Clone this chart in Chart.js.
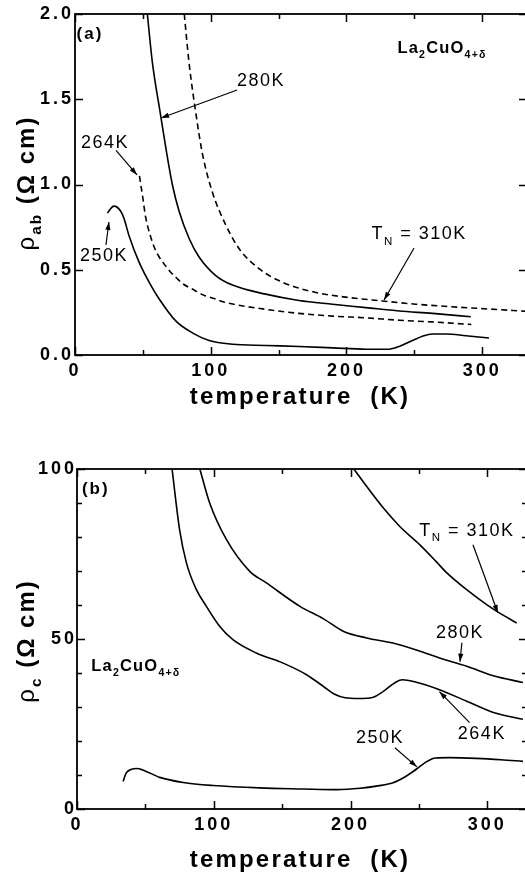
<!DOCTYPE html>
<html><head><meta charset="utf-8">
<script src="https://cdn.jsdelivr.net/npm/chart.js@4.4.0/dist/chart.umd.min.js"></script>
<style>
html,body{margin:0;padding:0;background:#fff;width:525px;height:877px;overflow:hidden;position:relative}
canvas{position:absolute;left:0}
#ca{top:0}
#cb{top:438px}
</style></head><body>
<canvas id="ca" width="535" height="438"></canvas>
<canvas id="cb" width="535" height="439"></canvas>
<script>
// ---------- tick values ----------
const X_TICKS = [0, 100, 200, 300];
const X_MINOR = [50, 150, 250];
const A_Y_TICKS = [0, 0.5, 1.0, 1.5, 2.0];
const A_Y_MINOR = [];
const B_Y_TICKS = [0, 50, 100];
const B_Y_MINOR = [10, 20, 30, 40, 60, 70, 80, 90];

// ---------- panel (a): rho_ab (Ohm cm) vs T (K) ----------
const aT250 = [23.8, 28.7, 33.7, 36.1, 39.8, 47.2, 55.8, 61.9, 74.2, 86.5, 98.8, 116, 140.5, 165, 189.7, 214.3, 231.4, 238.8, 248.6, 256, 263.4, 273.2, 288, 305];
const aR250 = [0.833, 0.873, 0.843, 0.80, 0.70, 0.545, 0.41, 0.33, 0.20, 0.13, 0.085, 0.063, 0.056, 0.05, 0.042, 0.034, 0.034, 0.05, 0.085, 0.11, 0.123, 0.123, 0.113, 0.10];
const aT264 = [47.5, 50, 52, 55.5, 59, 62, 66, 70, 75, 80, 88, 95, 103, 110, 120, 140.5, 165, 190, 214, 239, 263, 292];
const aR264 = [1.05, 0.92, 0.81, 0.70, 0.62, 0.575, 0.53, 0.49, 0.45, 0.415, 0.38, 0.35, 0.33, 0.31, 0.293, 0.268, 0.244, 0.228, 0.218, 0.204, 0.194, 0.179];
const aT280 = [53.3, 57, 63, 66.8, 71.7, 76.7, 84, 91.4, 103.7, 116, 140.5, 165, 189.7, 214.3, 238.8, 263.4, 291.6];
const aR280 = [2.0, 1.716, 1.41, 1.22, 1.0, 0.843, 0.685, 0.575, 0.466, 0.41, 0.357, 0.32, 0.298, 0.278, 0.258, 0.244, 0.224];
const aT310 = [80.5, 84, 89, 93.9, 101, 111, 120.8, 135.6, 152.8, 177.4, 202, 226.5, 251, 275.7, 300, 333];
const aR310 = [2.0, 1.716, 1.42, 1.18, 0.96, 0.764, 0.625, 0.506, 0.427, 0.367, 0.337, 0.317, 0.298, 0.284, 0.272, 0.256];

// ---------- panel (b): rho_c (Ohm cm) vs T (K) ----------
const bT250 = [33.7, 36, 40, 43.5, 48, 60.5, 77.6, 99.5, 133.6, 165, 190, 207, 220, 231, 240, 246, 251, 256, 262, 272, 292, 310, 326];
const bR250 = [8.1, 10.6, 11.7, 11.9, 11.5, 9.3, 7.8, 6.9, 6.2, 5.9, 5.7, 6.1, 6.8, 7.7, 9.5, 11.1, 12.6, 14.0, 15.0, 15.1, 14.9, 14.5, 14.0];
const bT264 = [69.5, 75, 80, 87.3, 94.6, 104.4, 114, 131, 150.7, 167.8, 180, 188, 196, 206, 216, 224, 233, 238, 246, 265, 284.9, 304.4, 326];
const bR264 = [100, 82.2, 72.4, 64.5, 59.6, 53.7, 49.8, 45.9, 42.9, 39.5, 36.1, 33.8, 32.7, 32.5, 32.8, 34.6, 37.3, 38.0, 37.5, 35.1, 31.7, 28.4, 26.4];
const bT280 = [89.8, 97, 109.3, 126.3, 138.5, 163, 180, 194.6, 211.7, 231, 250.7, 265, 284.9, 304.4, 326];
const bR280 = [100, 90, 79.2, 69.9, 66.5, 59.6, 56, 52.3, 50.3, 48.8, 46.4, 44.4, 42, 39.2, 37.2];
const bT310 = [202.4, 211.7, 224, 236, 250.7, 263, 270, 284.9, 299.5, 309, 321.5];
const bR310 = [100, 94.9, 88.5, 83.1, 77.7, 72.6, 69.6, 64.5, 60.1, 57.6, 54.7];

// ---------- annotation labels (data coords) ----------
const A_NOTES = [
  {parts:[{t:'(a)'}], x:11, y:1.89, size:17, weight:'bold', sp:2},
  {parts:[{t:'La'},{t:'2',sub:1},{t:'CuO'},{t:'4+δ',sub:1}], x:270.4, y:1.806, size:16.5, weight:'bold', sp:1.2},
  {parts:[{t:'280K'}], x:137, y:1.613, size:18, weight:'normal', sp:1.5, arrow:[119.4,1.554,63.4,1.39]},
  {parts:[{t:'264K'}], x:22.1, y:1.25, size:18, weight:'normal', sp:1.5, arrow:[30.2,1.20,45.7,1.056]},
  {parts:[{t:'250K'}], x:21.4, y:0.587, size:18, weight:'normal', sp:1.5, arrow:[22.8,0.645,25,0.78]},
  {parts:[{t:'T'},{t:'N',sub:1},{t:' = 310K'}], x:253.5, y:0.716, size:18, weight:'normal', sp:1.5, arrow:[249.8,0.628,227.7,0.323]}
];
const B_NOTES = [
  {parts:[{t:'(b)'}], x:13.7, y:94.5, size:17, weight:'bold', sp:2},
  {parts:[{t:'T'},{t:'N',sub:1},{t:' = 310K'}], x:285, y:82.2, size:18, weight:'normal', sp:1.5, arrow:[289.5,77.7,307.7,57.7]},
  {parts:[{t:'280K'}], x:280, y:52.1, size:18, weight:'normal', sp:1.5, arrow:[281.4,48.9,280,43.3]},
  {parts:[{t:'La'},{t:'2',sub:1},{t:'CuO'},{t:'4+δ',sub:1}], x:43, y:42.4, size:16.5, weight:'bold', sp:1.2},
  {parts:[{t:'264K'}], x:296, y:22.4, size:18, weight:'normal', sp:1.5, arrow:[287,25.4,265,34.5]},
  {parts:[{t:'250K'}], x:221.5, y:21.3, size:18, weight:'normal', sp:1.5, arrow:[232.4,18.0,248.5,12.4]}
];

const FAM = '"Liberation Sans", Arial, Helvetica, sans-serif';

function pts(xs, ys){ return xs.map((x,i)=>({x:x, y:ys[i]})); }

function measureParts(ctx, parts, size, weight, sp){
  let w = 0;
  for (const p of parts){
    const s = p.sub ? size*0.64 : size;
    ctx.font = `${p.w||weight} ${s}px ${p.f||FAM}`;
    ctx.letterSpacing = sp + 'px';
    w += ctx.measureText(p.t).width;
  }
  return w;
}
function drawParts(ctx, parts, cx, cy, size, weight, sp){
  const w = measureParts(ctx, parts, size, weight, sp);
  let x = cx - w/2;
  ctx.textAlign = 'left'; ctx.textBaseline = 'alphabetic'; ctx.fillStyle = '#000';
  for (const p of parts){
    const s = p.sub ? size*0.64 : size;
    ctx.font = `${p.w||weight} ${s}px ${p.f||FAM}`;
    ctx.letterSpacing = sp + 'px';
    ctx.fillText(p.t, x, cy + size*0.36 + (p.sub ? size*0.3 : 0));
    x += ctx.measureText(p.t).width;
  }
}
function arrow(ctx, x1, y1, x2, y2){
  ctx.beginPath(); ctx.moveTo(x1,y1); ctx.lineTo(x2,y2);
  ctx.lineWidth = 1.2; ctx.strokeStyle = '#000'; ctx.stroke();
  const a = Math.atan2(y2-y1, x2-x1), L = 8, W = 2.6;
  ctx.beginPath();
  ctx.moveTo(x2, y2);
  ctx.lineTo(x2 - L*Math.cos(a) + W*Math.sin(a), y2 - L*Math.sin(a) - W*Math.cos(a));
  ctx.lineTo(x2 - L*Math.cos(a) - W*Math.sin(a), y2 - L*Math.sin(a) + W*Math.cos(a));
  ctx.closePath(); ctx.fillStyle = '#000'; ctx.fill();
}

function makePlugin(cfg){
  return {
    id: 'decor',
    beforeDraw(chart){ chart.ctx.letterSpacing = '3px'; },
    afterDraw(chart){
      const ctx = chart.ctx, ca = chart.chartArea, xs = chart.scales.x, ys = chart.scales.y;
      ctx.save();
      ctx.letterSpacing = '0px';
      ctx.strokeStyle = '#000'; ctx.lineWidth = 1.8;
      ctx.strokeRect(ca.left, ca.top, ca.right - ca.left, ca.bottom - ca.top);
      ctx.lineWidth = 1.5;
      const tk = (list, len) => {
        for (const v of list){
          const px = Math.round(xs.getPixelForValue(v)) + 0.5;
          ctx.beginPath();
          ctx.moveTo(px, ca.bottom); ctx.lineTo(px, ca.bottom - len);
          ctx.moveTo(px, ca.top); ctx.lineTo(px, ca.top + len);
          ctx.stroke();
        }
      };
      tk(X_TICKS, 8); tk(X_MINOR, 5);
      const tky = (list, len) => {
        for (const v of list){
          const py = Math.round(ys.getPixelForValue(v)) + 0.5;
          ctx.beginPath();
          ctx.moveTo(ca.left, py); ctx.lineTo(ca.left + len, py);
          ctx.moveTo(ca.right, py); ctx.lineTo(ca.right - len, py);
          ctx.stroke();
        }
      };
      tky(cfg.yTicks, 8); tky(cfg.yMinor, 5);
      for (const n of cfg.notes){
        drawParts(ctx, n.parts, xs.getPixelForValue(n.x), ys.getPixelForValue(n.y), n.size, n.weight, n.sp);
        if (n.arrow){
          const a = n.arrow;
          arrow(ctx, xs.getPixelForValue(a[0]), ys.getPixelForValue(a[1]), xs.getPixelForValue(a[2]), ys.getPixelForValue(a[3]));
        }
      }
      drawParts(ctx, [{t:'temperature  (K)'}], 300, cfg.xTitleY, 24, 'bold', 2.2);
      ctx.translate(cfg.yTitleX, cfg.yTitleY);
      ctx.rotate(-Math.PI/2);
      drawParts(ctx, cfg.yTitle, 0, 0, 24, 'bold', 2);
      ctx.restore();
    }
  };
}

function ds(xs, ys, dashed){
  return {
    data: pts(xs, ys), borderColor:'#000', borderWidth:1.6, pointRadius:0,
    borderDash: dashed ? [6,4] : [], cubicInterpolationMode:'monotone', fill:false
  };
}

function makeChart(id, cfg){
  return new Chart(document.getElementById(id), {
    type: 'line',
    data: { datasets: cfg.datasets },
    options: {
      responsive:false, animation:false, devicePixelRatio:1,
      layout:{ padding:{ top:cfg.padTop, right:8, left:0, bottom:0 } },
      plugins:{ legend:{display:false}, tooltip:{enabled:false} },
      scales:{
        x:{
          type:'linear', min:0, max:cfg.xMax,
          afterBuildTicks: s => { s.ticks = X_TICKS.map(v=>({value:v})); },
          afterFit: s => { s.height = cfg.xH; },
          grid:{display:false, drawTicks:false}, border:{display:false},
          ticks:{ color:'#000', font:{family:FAM, size:18, weight:'bold'}, padding:5, maxRotation:0, autoSkip:false,
                  callback: v => String(v) }
        },
        y:{
          type:'linear', min:cfg.yMin, max:cfg.yMax,
          afterBuildTicks: s => { s.ticks = cfg.yTicks.map(v=>({value:v})); },
          afterFit: s => { s.width = cfg.yW; },
          grid:{display:false, drawTicks:false}, border:{display:false},
          ticks:{ color:'#000', font:{family:FAM, size:18, weight:'bold'}, padding:cfg.yPad, autoSkip:false,
                  callback: cfg.yFmt }
        }
      }
    },
    plugins:[makePlugin(cfg)]
  });
}

makeChart('ca', {
  datasets:[ds(aT250,aR250,false), ds(aT264,aR264,true), ds(aT280,aR280,false), ds(aT310,aR310,true)],
  padTop:14, xMax:333, xH:83, yW:75, yPad:1, yMin:0, yMax:2.0,
  yTicks:A_Y_TICKS, yMinor:A_Y_MINOR, yFmt: v => v.toFixed(1),
  notes:A_NOTES, xTitleY:395, yTitleX:25, yTitleY:183,
  yTitle:[{t:'ρ', w:'normal'},{t:'ab',sub:1},{t:' (Ω cm)'}]
});
makeChart('cb', {
  datasets:[ds(bT250,bR250,false), ds(bT264,bR264,false), ds(bT280,bR280,false), ds(bT310,bR310,false)],
  padTop:31, xMax:329, xH:68, yW:77, yPad:0, yMin:0, yMax:100,
  yTicks:B_Y_TICKS, yMinor:B_Y_MINOR, yFmt: v => String(v),
  notes:B_NOTES, xTitleY:420, yTitleX:25, yTitleY:203,
  yTitle:[{t:'ρ', w:'normal'},{t:'c',sub:1},{t:' (Ω cm)'}]
});
</script>
</body></html>
